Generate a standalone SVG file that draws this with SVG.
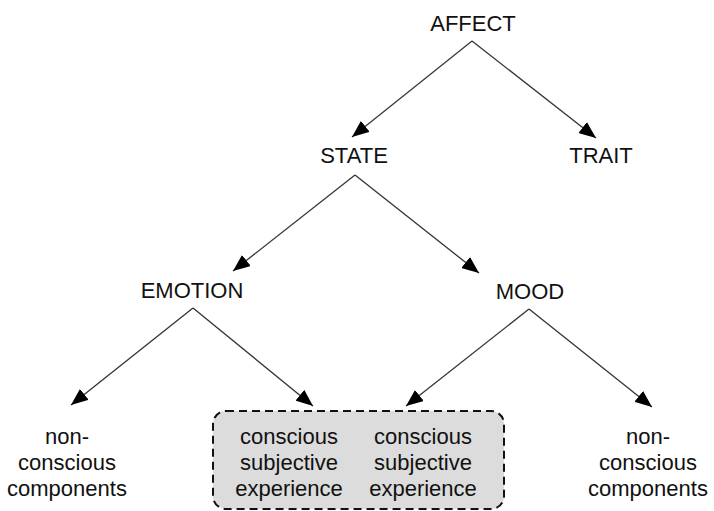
<svg xmlns="http://www.w3.org/2000/svg" width="714" height="511" viewBox="0 0 714 511">
  <style>
    .lbl { font-family: "Liberation Sans", Arial, sans-serif; font-size: 22px; fill: #111; text-anchor: middle; }
    .edge { stroke: #333; stroke-width: 1.3; fill: none; marker-end: url(#arr); }
    .box { fill: #dcdcdc; stroke: #111; stroke-width: 2; stroke-dasharray: 8 5; }
  </style>
  <defs>
    <marker id="arr" markerUnits="userSpaceOnUse" markerWidth="18" markerHeight="14" refX="17" refY="7" orient="auto">
      <path d="M0,0 L17,7 L0,14 z" fill="#000"/>
    </marker>
  </defs>
  <rect width="714" height="511" fill="#fff"/>
  <g id="connectors">
    <line class="edge" x1="472" y1="41" x2="352" y2="137"/>
    <line class="edge" x1="472" y1="41" x2="596" y2="138"/>
    <line class="edge" x1="355" y1="175" x2="233" y2="271"/>
    <line class="edge" x1="355" y1="175" x2="479" y2="273"/>
    <line class="edge" x1="193" y1="308" x2="71" y2="405"/>
    <line class="edge" x1="193" y1="308" x2="313" y2="406"/>
    <line class="edge" x1="529" y1="309" x2="406" y2="406"/>
    <line class="edge" x1="529" y1="309" x2="652" y2="407"/>
  </g>
  <g id="affect"><text class="lbl" x="473" y="31">AFFECT</text></g>
  <g id="state"><text class="lbl" x="354" y="163">STATE</text></g>
  <g id="trait"><text class="lbl" x="601" y="163">TRAIT</text></g>
  <g id="emotion"><text class="lbl" x="192" y="298">EMOTION</text></g>
  <g id="mood"><text class="lbl" x="530" y="299">MOOD</text></g>
  <g id="nonconscious-left">
    <text class="lbl" x="67" y="444">non-</text>
    <text class="lbl" x="67" y="470">conscious</text>
    <text class="lbl" x="67" y="496">components</text>
  </g>
  <g id="conscious-box">
    <rect class="box" x="213" y="411" width="291" height="98" rx="13" ry="13"/>
  </g>
  <g id="conscious-emotion">
    <text class="lbl" x="289" y="444">conscious</text>
    <text class="lbl" x="289" y="470">subjective</text>
    <text class="lbl" x="289" y="496">experience</text>
  </g>
  <g id="conscious-mood">
    <text class="lbl" x="423" y="444">conscious</text>
    <text class="lbl" x="423" y="470">subjective</text>
    <text class="lbl" x="423" y="496">experience</text>
  </g>
  <g id="nonconscious-right">
    <text class="lbl" x="648" y="444">non-</text>
    <text class="lbl" x="648" y="470">conscious</text>
    <text class="lbl" x="648" y="496">components</text>
  </g>
</svg>
